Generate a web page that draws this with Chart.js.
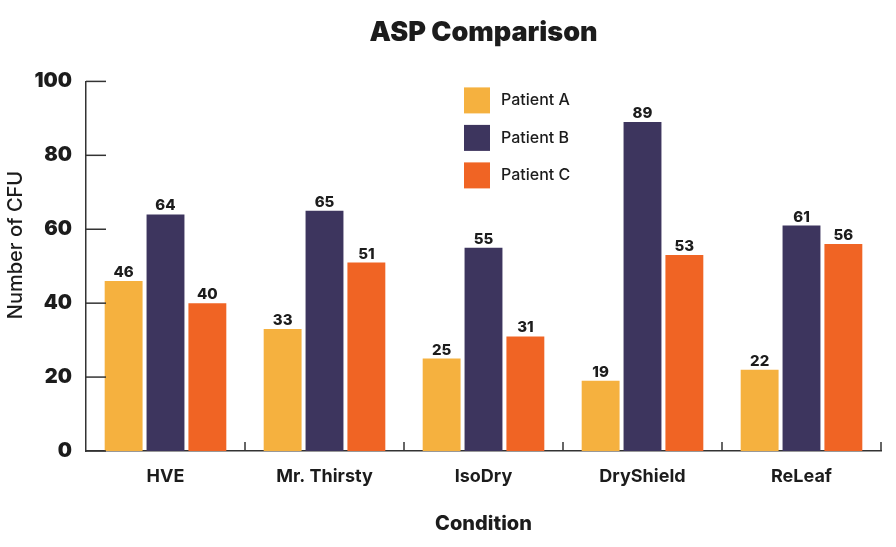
<!DOCTYPE html>
<html>
<head>
<meta charset="utf-8">
<script src="https://cdn.jsdelivr.net/npm/chart.js@4.4.0/dist/chart.umd.min.js"></script>
<style>
  html, body { margin: 0; padding: 0; background: #fff; }
</style>
</head>
<body>
<canvas id="aspChart" width="896" height="547"></canvas>
<script>
// Data
const conditions = ['HVE', 'Mr. Thirsty', 'IsoDry', 'DryShield', 'ReLeaf'];
const patientA = [46, 33, 25, 19, 22];
const patientB = [64, 65, 55, 89, 61];
const patientC = [40, 51, 31, 53, 56];
const seriesNames = ['Patient A', 'Patient B', 'Patient C'];
const seriesColors = ['#F5B13F', '#3D355E', '#F06424'];

const FONT = 'Inter, "DejaVu Sans", sans-serif';
const INK = '#1c1c1c';

// ticks inside the axes, value labels, legend box and y title
const extras = {
    id: 'extras',
    afterDatasetsDraw(chart) {
        const ctx = chart.ctx;
        const xs = chart.scales.x;
        const ys = chart.scales.y;
        const area = chart.chartArea;
        ctx.save();

        ctx.strokeStyle = '#333';
        ctx.lineWidth = 1.5;
        ys.ticks.forEach(t => {
            const py = ys.getPixelForValue(t.value);
            ctx.beginPath();
            ctx.moveTo(area.left, py);
            ctx.lineTo(area.left + 20, py);
            ctx.stroke();
        });
        const n = xs.ticks.length;
        for (let i = 1; i <= n; i++) {
            const px = xs.left + (xs.right - xs.left) * i / n;
            ctx.beginPath();
            ctx.moveTo(px, area.bottom);
            ctx.lineTo(px, area.bottom - 9);
            ctx.stroke();
        }

        // value labels over bars
        ctx.fillStyle = INK;
        ctx.font = '800 15px ' + FONT;
        ctx.textAlign = 'center';
        ctx.textBaseline = 'alphabetic';
        chart.data.datasets.forEach((ds, di) => {
            chart.getDatasetMeta(di).data.forEach((bar, i) => {
                ctx.fillText(ds.data[i], bar.x, bar.y - 4);
            });
        });

        // legend
        ctx.font = '500 16px ' + FONT;
        ctx.textAlign = 'left';
        ctx.textBaseline = 'middle';
        chart.data.datasets.forEach((ds, di) => {
            const top = area.top + 6 + di * 37.5;
            ctx.fillStyle = ds.backgroundColor;
            ctx.fillRect(464, top, 26, 26);
            ctx.fillStyle = INK;
            ctx.fillText(ds.label, 501, top + 13);
        });

        // y axis title
        ctx.translate(16, 245);
        ctx.rotate(-Math.PI / 2);
        ctx.textAlign = 'center';
        ctx.textBaseline = 'middle';
        ctx.font = '500 20px ' + FONT;
        ctx.fillText('Number of CFU', 0, 0);
        ctx.restore();
    }
};

const ctx = document.getElementById('aspChart').getContext('2d');
const aspChart = new Chart(ctx, {
    type: 'bar',
    data: {
        labels: conditions,
        datasets: [patientA, patientB, patientC].map((vals, i) => ({
            label: seriesNames[i],
            data: vals,
            backgroundColor: seriesColors[i],
            borderWidth: 0,
            barPercentage: 0.905,
            categoryPercentage: 0.79
        }))
    },
    options: {
        responsive: false,
        animation: false,
        layout: { padding: { left: 0, right: 15, top: 0, bottom: 0 } },
        plugins: {
            legend: { display: false },
            tooltip: { enabled: false },
            title: {
                display: true,
                fullSize: false,
                text: 'ASP Comparison',
                color: INK,
                font: { family: FONT, size: 27, weight: '900' },
                padding: { top: 17, bottom: 32 }
            }
        },
        scales: {
            x: {
                grid: { display: false, drawTicks: false },
                border: { display: true, color: '#333', width: 1.5 },
                ticks: {
                    color: INK,
                    padding: 15,
                    font: { family: FONT, size: 18, weight: '700' }
                },
                title: {
                    display: true,
                    text: 'Condition',
                    color: INK,
                    font: { family: FONT, size: 20, weight: '800' },
                    padding: { top: 0, bottom: 11 }
                },
                afterFit(s) { s.height = 96; }
            },
            y: {
                min: 0,
                max: 100,
                grid: { display: false, drawTicks: false },
                border: { display: true, color: '#333', width: 1.5 },
                ticks: {
                    stepSize: 20,
                    color: INK,
                    padding: 14,
                    font: { family: FONT, size: 20, weight: '900' }
                },
                afterFit(s) { s.width = 86; }
            }
        }
    },
    plugins: [extras]
});
</script>
</body>
</html>
